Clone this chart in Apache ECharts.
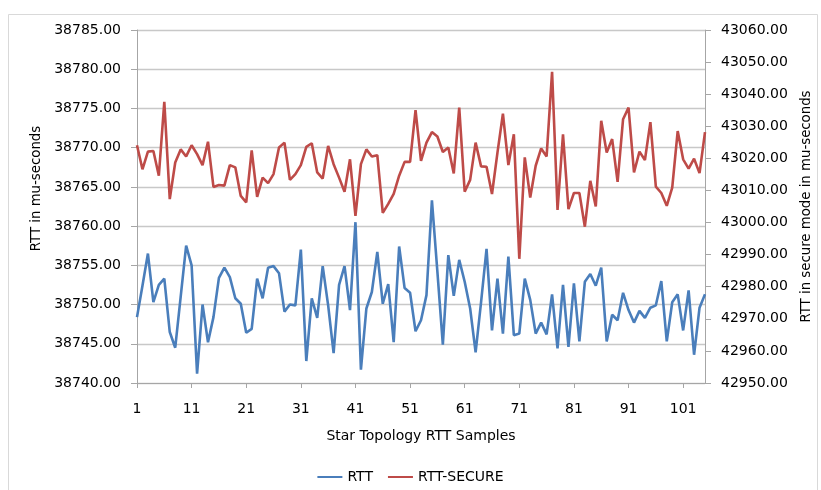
<!DOCTYPE html>
<html>
<head>
<meta charset="utf-8">
<script src="https://cdn.jsdelivr.net/npm/echarts@6/dist/echarts.min.js"></script>
<style>
html,body{margin:0;padding:0;background:#fff;}
#chart{width:821px;height:490px;}
</style>
</head>
<body>
<div id="chart"></div>
<script>
// Sample indices 1..105
const categories = Array.from({length: 105}, (_, i) => String(i + 1));

const rtt = [
  38748.4, 38752.4, 38756.5, 38750.3, 38752.5, 38753.3, 38746.5, 38744.5, 38751.0, 38757.5,
  38755.0, 38741.2, 38750.0, 38745.2, 38748.4, 38753.4, 38754.7, 38753.5, 38750.8, 38750.1,
  38746.4, 38746.9, 38753.3, 38750.8, 38754.7, 38754.9, 38754.0, 38749.1, 38750.0, 38749.9,
  38757.0, 38742.8, 38750.8, 38748.3, 38754.9, 38749.9, 38743.8, 38752.5, 38754.9, 38749.3,
  38760.5, 38741.7, 38749.5, 38751.6, 38756.7, 38750.1, 38752.6, 38745.2, 38757.4, 38752.1,
  38751.5, 38746.6, 38748.0, 38751.2, 38763.3, 38754.2, 38744.9, 38756.3, 38751.1, 38755.7,
  38752.9, 38749.5, 38743.9, 38750.3, 38757.1, 38746.7, 38753.3, 38746.3, 38756.1, 38746.1,
  38746.3, 38753.3, 38750.6, 38746.3, 38747.7, 38746.2, 38751.3, 38744.4, 38752.5, 38744.6,
  38752.7, 38745.3, 38752.9, 38753.9, 38752.4, 38754.7, 38745.3, 38748.7, 38748.0, 38751.5,
  38749.3, 38747.7, 38749.2, 38748.3, 38749.6, 38749.9, 38753.0, 38745.3, 38750.3, 38751.3,
  38746.7, 38751.8, 38743.6, 38749.6, 38751.3
];

const rttSecure = [
  43024.1, 43016.6, 43022.1, 43022.3, 43014.6, 43037.6, 43007.3, 43018.7, 43022.8, 43020.6,
  43024.1, 43021.3, 43017.9, 43025.2, 43011.1, 43011.7, 43011.5, 43017.9, 43017.2, 43008.3,
  43006.3, 43022.5, 43008.0, 43014.0, 43012.3, 43015.1, 43023.4, 43024.9, 43013.3, 43015.1,
  43017.9, 43023.6, 43024.7, 43015.6, 43013.7, 43023.9, 43018.2, 43014.0, 43009.6, 43019.7,
  43002.1, 43018.2, 43022.8, 43020.6, 43021.0, 43003.0, 43005.8, 43008.9, 43014.6, 43018.9,
  43018.9, 43035.0, 43019.2, 43024.9, 43028.2, 43026.8, 43022.0, 43023.4, 43015.3, 43035.8,
  43009.6, 43013.3, 43024.9, 43017.5, 43017.4, 43008.9, 43021.8, 43033.9, 43017.9, 43027.5,
  42988.7, 43020.3, 43007.8, 43017.7, 43023.1, 43020.6, 43047.0, 43003.9, 43027.5, 43004.2,
  43009.2, 43009.2, 42998.7, 43013.0, 43005.0, 43031.7, 43021.8, 43026.0, 43012.7, 43032.2,
  43035.8, 43015.6, 43022.1, 43019.5, 43031.3, 43011.2, 43009.2, 43005.2, 43010.9, 43028.5,
  43019.7, 43016.8, 43019.9, 43015.4, 43028.2
];

const seriesNames = ['RTT', 'RTT-SECURE'];
const xAxisTitle = 'Star Topology RTT Samples';
const leftAxisTitle = 'RTT in mu-seconds';
const rightAxisTitle = 'RTT in secure mode in mu-seconds';

const FONT = 'DejaVu Sans';
const TXT = '#000000';
const AXIS = '#a6a6a6';

const chart = echarts.init(document.getElementById('chart'), null, {renderer: 'canvas'});
chart.setOption({
  animation: false,
  backgroundColor: '#ffffff',
  textStyle: {fontFamily: FONT},
  graphic: [{
    type: 'rect', silent: true, z: -10,
    shape: {x: 8.5, y: 14.5, width: 809, height: 490},
    style: {fill: 'none', stroke: '#d9d9d9', lineWidth: 1}
  }],
  grid: {left: 137, right: 114, top: 30, bottom: 107, containLabel: false},
  legend: {
    data: seriesNames,
    bottom: 1,
    left: 'center',
    itemWidth: 25,
    itemHeight: 10,
    itemGap: 15,
    icon: 'path://M0,4 L25,4 L25,6 L0,6 Z',
    textStyle: {fontFamily: FONT, fontSize: 14, color: TXT}
  },
  xAxis: {
    type: 'category',
    data: categories,
    boundaryGap: false,
    name: xAxisTitle,
    nameLocation: 'middle',
    nameGap: 46,
    nameTextStyle: {fontFamily: FONT, fontSize: 14, color: TXT},
    axisLine: {lineStyle: {color: AXIS, width: 1}},
    axisTick: {show: true, interval: 9, length: 5, lineStyle: {color: AXIS}},
    axisLabel: {interval: 9, margin: 19, fontFamily: FONT, fontSize: 14, color: TXT},
    splitLine: {show: false}
  },
  yAxis: [{
    type: 'value',
    position: 'left',
    min: 38740, max: 38785, interval: 5,
    name: leftAxisTitle,
    nameLocation: 'middle',
    nameRotate: 90,
    nameGap: 92,
    nameTextStyle: {fontFamily: FONT, fontSize: 13.3, color: TXT, padding: [0, 0, 0, 36]},
    axisLine: {show: true, lineStyle: {color: AXIS, width: 1}},
    axisTick: {show: true, length: 6, lineStyle: {color: AXIS}},
    axisLabel: {margin: 16, fontFamily: FONT, fontSize: 14, color: TXT,
      formatter: v => v.toFixed(2)},
    splitLine: {show: true, lineStyle: {color: '#c8c8c8', width: 1.3}}
  }, {
    type: 'value',
    position: 'right',
    min: 42950, max: 43060, interval: 10,
    name: rightAxisTitle,
    nameLocation: 'middle',
    nameRotate: 90,
    nameGap: 95,
    nameTextStyle: {fontFamily: FONT, fontSize: 13.3, color: TXT},
    axisLine: {show: true, lineStyle: {color: AXIS, width: 1}},
    axisTick: {show: true, length: 6, lineStyle: {color: AXIS}},
    axisLabel: {margin: 16, fontFamily: FONT, fontSize: 14, color: TXT,
      formatter: v => v.toFixed(2)},
    splitLine: {show: false}
  }],
  series: [{
    name: seriesNames[0],
    type: 'line',
    yAxisIndex: 0,
    data: rtt,
    symbol: 'none',
    lineStyle: {color: '#4a7ebb', width: 2.6},
    itemStyle: {color: '#4a7ebb'}
  }, {
    name: seriesNames[1],
    type: 'line',
    yAxisIndex: 1,
    data: rttSecure,
    symbol: 'none',
    lineStyle: {color: '#be4b48', width: 2.6},
    itemStyle: {color: '#be4b48'}
  }]
});
</script>
</body>
</html>
